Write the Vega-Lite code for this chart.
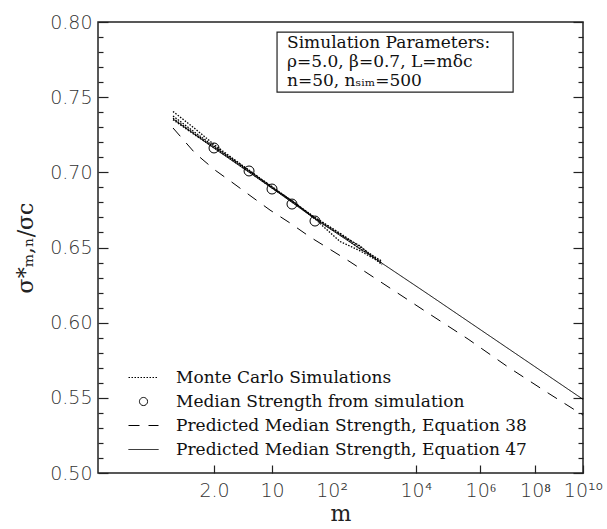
{
  "$schema": "https://vega.github.io/schema/vega-lite/v6.json",
  "width": 485,
  "height": 451,
  "autosize": {"type": "none"},
  "padding": {"left": 98, "top": 22, "right": 24, "bottom": 56},
  "background": "white",
  "config": {
    "view": {"stroke": "#222", "strokeWidth": 1.5},
    "axis": {"domain": false, "grid": false, "labelFont": "DejaVu Sans", "labelFontWeight": 200, "labelColor": "#333", "labelFontSize": 19, "tickColor": "#222", "tickWidth": 1.2, "labelOverlap": false, "labelFlush": false},
    "legend": {"symbolStrokeColor": "black", "symbolFillColor": "transparent"}
  },
  "datasets": {
    "eq38": [
      {"logm": 0.0971, "v": 0.7295, "series": "Predicted Median Strength, Equation 38"},
      {"logm": 0.2158, "v": 0.7128, "series": "Predicted Median Strength, Equation 38"},
      {"logm": 0.3643, "v": 0.7015, "series": "Predicted Median Strength, Equation 38"},
      {"logm": 0.5311, "v": 0.6929, "series": "Predicted Median Strength, Equation 38"},
      {"logm": 0.7412, "v": 0.6836, "series": "Predicted Median Strength, Equation 38"},
      {"logm": 0.9724, "v": 0.6749, "series": "Predicted Median Strength, Equation 38"},
      {"logm": 1.2661, "v": 0.6663, "series": "Predicted Median Strength, Equation 38"},
      {"logm": 1.5985, "v": 0.6570, "series": "Predicted Median Strength, Equation 38"},
      {"logm": 2.379, "v": 0.6405, "series": "Predicted Median Strength, Equation 38"},
      {"logm": 4.346, "v": 0.6064, "series": "Predicted Median Strength, Equation 38"},
      {"logm": 5.584, "v": 0.5891, "series": "Predicted Median Strength, Equation 38"},
      {"logm": 6.976, "v": 0.5705, "series": "Predicted Median Strength, Equation 38"},
      {"logm": 8.522, "v": 0.5532, "series": "Predicted Median Strength, Equation 38"},
      {"logm": 10, "v": 0.5385, "series": "Predicted Median Strength, Equation 38"}
    ],
    "eq47": [
      {"logm": 0.0971, "v": 0.7355, "series": "Predicted Median Strength, Equation 47"},
      {"logm": 0.348, "v": 0.7165, "series": "Predicted Median Strength, Equation 47"},
      {"logm": 1.0, "v": 0.6895, "series": "Predicted Median Strength, Equation 47"},
      {"logm": 1.687, "v": 0.6690, "series": "Predicted Median Strength, Equation 47"},
      {"logm": 3.116, "v": 0.6395, "series": "Predicted Median Strength, Equation 47"},
      {"logm": 4.346, "v": 0.6190, "series": "Predicted Median Strength, Equation 47"},
      {"logm": 10, "v": 0.5490, "series": "Predicted Median Strength, Equation 47"}
    ],
    "mc": [
      {"run": 1, "logm": 0.097, "v": 0.7405, "series": "Monte Carlo Simulations"},
      {"run": 1, "logm": 0.216, "v": 0.7290, "series": "Monte Carlo Simulations"},
      {"run": 1, "logm": 0.364, "v": 0.7180, "series": "Monte Carlo Simulations"},
      {"run": 1, "logm": 0.717, "v": 0.7008, "series": "Monte Carlo Simulations"},
      {"run": 1, "logm": 1.0, "v": 0.6905, "series": "Monte Carlo Simulations"},
      {"run": 1, "logm": 1.313, "v": 0.6805, "series": "Monte Carlo Simulations"},
      {"run": 1, "logm": 1.687, "v": 0.6700, "series": "Monte Carlo Simulations"},
      {"run": 1, "logm": 2.170, "v": 0.6595, "series": "Monte Carlo Simulations"},
      {"run": 1, "logm": 2.599, "v": 0.6505, "series": "Monte Carlo Simulations"},
      {"run": 1, "logm": 3.116, "v": 0.6402, "series": "Monte Carlo Simulations"},
      {"run": 2, "logm": 0.097, "v": 0.7350, "series": "Monte Carlo Simulations"},
      {"run": 2, "logm": 0.216, "v": 0.7248, "series": "Monte Carlo Simulations"},
      {"run": 2, "logm": 0.364, "v": 0.7160, "series": "Monte Carlo Simulations"},
      {"run": 2, "logm": 0.717, "v": 0.7000, "series": "Monte Carlo Simulations"},
      {"run": 2, "logm": 1.0, "v": 0.6895, "series": "Monte Carlo Simulations"},
      {"run": 2, "logm": 1.313, "v": 0.6808, "series": "Monte Carlo Simulations"},
      {"run": 2, "logm": 1.687, "v": 0.6690, "series": "Monte Carlo Simulations"},
      {"run": 2, "logm": 2.170, "v": 0.6540, "series": "Monte Carlo Simulations"},
      {"run": 2, "logm": 2.599, "v": 0.6478, "series": "Monte Carlo Simulations"},
      {"run": 2, "logm": 3.116, "v": 0.6395, "series": "Monte Carlo Simulations"},
      {"run": 3, "logm": 0.097, "v": 0.7375, "series": "Monte Carlo Simulations"},
      {"run": 3, "logm": 0.216, "v": 0.7265, "series": "Monte Carlo Simulations"},
      {"run": 3, "logm": 0.364, "v": 0.7170, "series": "Monte Carlo Simulations"},
      {"run": 3, "logm": 0.717, "v": 0.7010, "series": "Monte Carlo Simulations"},
      {"run": 3, "logm": 1.0, "v": 0.6898, "series": "Monte Carlo Simulations"},
      {"run": 3, "logm": 1.313, "v": 0.6800, "series": "Monte Carlo Simulations"},
      {"run": 3, "logm": 1.687, "v": 0.6698, "series": "Monte Carlo Simulations"},
      {"run": 3, "logm": 2.170, "v": 0.6590, "series": "Monte Carlo Simulations"},
      {"run": 3, "logm": 2.599, "v": 0.6490, "series": "Monte Carlo Simulations"},
      {"run": 3, "logm": 3.116, "v": 0.6410, "series": "Monte Carlo Simulations"},
      {"run": 4, "logm": 0.097, "v": 0.7360, "series": "Monte Carlo Simulations"},
      {"run": 4, "logm": 0.216, "v": 0.7255, "series": "Monte Carlo Simulations"},
      {"run": 4, "logm": 0.364, "v": 0.7165, "series": "Monte Carlo Simulations"},
      {"run": 4, "logm": 0.717, "v": 0.7005, "series": "Monte Carlo Simulations"},
      {"run": 4, "logm": 1.0, "v": 0.6902, "series": "Monte Carlo Simulations"},
      {"run": 4, "logm": 1.313, "v": 0.6803, "series": "Monte Carlo Simulations"},
      {"run": 4, "logm": 1.687, "v": 0.6693, "series": "Monte Carlo Simulations"},
      {"run": 4, "logm": 2.170, "v": 0.6585, "series": "Monte Carlo Simulations"},
      {"run": 4, "logm": 2.599, "v": 0.6510, "series": "Monte Carlo Simulations"},
      {"run": 4, "logm": 3.116, "v": 0.6385, "series": "Monte Carlo Simulations"}
    ],
    "median": [
      {"logm": 0.356, "v": 0.7162, "series": "Median Strength from simulation"},
      {"logm": 0.706, "v": 0.7009, "series": "Median Strength from simulation"},
      {"logm": 1.0, "v": 0.6889, "series": "Median Strength from simulation"},
      {"logm": 1.297, "v": 0.6789, "series": "Median Strength from simulation"},
      {"logm": 1.687, "v": 0.6676, "series": "Median Strength from simulation"}
    ]
  },
  "resolve": {"axis": {"x": "independent", "y": "independent"}},
  "layer": [
    {
      "data": {"name": "eq38"},
      "mark": {"type": "line", "color": "black", "strokeWidth": 1},
      "encoding": {
        "x": {"field": "logm", "type": "quantitative",
          "scale": {"type": "sqrt", "domain": [-0.0441, 10], "nice": false, "zero": false},
          "axis": {"orient": "bottom", "values": [0.356, 1, 2, 4, 6, 8, 10], "ticks": false, "labelPadding": 8,
            "labelExpr": "datum.value < 0.5 ? '2.0' : datum.value == 1 ? '10' : datum.value == 2 ? '10²' : datum.value == 4 ? '10⁴' : datum.value == 6 ? '10⁶' : datum.value == 8 ? '10⁸' : '10¹⁰'",
            "title": "m", "titleFont": "DejaVu Serif", "titleFontSize": 22, "titleFontWeight": "normal", "titlePadding": 3, "titleColor": "#222"}},
        "y": {"field": "v", "type": "quantitative",
          "scale": {"domain": [0.5, 0.8], "nice": false, "zero": false},
          "axis": {"orient": "left", "values": [0.5, 0.55, 0.6, 0.65, 0.7, 0.75, 0.8], "ticks": false, "labelPadding": 6, "format": ".2f",
            "title": "σ*ₘ,ₙ/σc", "titleFont": "DejaVu Serif", "titleFontSize": 22, "titleFontWeight": "normal", "titlePadding": 12, "titleColor": "#222"}},
        "strokeDash": {"field": "series", "type": "nominal",
          "scale": {"domain": ["Monte Carlo Simulations", "Median Strength from simulation", "Predicted Median Strength, Equation 38", "Predicted Median Strength, Equation 47"],
            "range": [[1.5, 1.5], [1, 0], [11, 9], [1, 0]]},
          "legend": {"title": null, "orient": "none", "legendX": 30, "legendY": 340, "symbolSize": 900, "symbolStrokeWidth": 1, "symbolStrokeColor": "black", "symbolFillColor": "transparent",
            "labelFont": "DejaVu Serif", "labelFontSize": 17, "labelColor": "#111", "labelOffset": 17, "rowPadding": -2, "labelLimit": 500}}
      }
    },
    {
      "data": {"name": "eq47"},
      "mark": {"type": "line", "color": "black", "strokeWidth": 1},
      "encoding": {
        "x": {"field": "logm", "type": "quantitative",
          "scale": {"type": "sqrt", "domain": [-0.0441, 10], "nice": false, "zero": false},
          "axis": {"orient": "bottom", "values": [0.356, 1, 4, 6, 8, 10], "labels": false, "tickSize": -8, "title": null}},
        "y": {"field": "v", "type": "quantitative",
          "axis": {"orient": "left", "values": [0.5, 0.55, 0.6, 0.65, 0.7, 0.75, 0.8], "labels": false, "tickSize": -10, "title": null}},
        "strokeDash": {"field": "series", "type": "nominal"}
      }
    },
    {
      "data": {"name": "mc"},
      "mark": {"type": "line", "color": "black", "strokeWidth": 1.3},
      "encoding": {
        "x": {"field": "logm", "type": "quantitative", "axis": null},
        "y": {"field": "v", "type": "quantitative",
          "axis": {"orient": "left", "values": [0.51, 0.52, 0.53, 0.54, 0.56, 0.57, 0.58, 0.59, 0.61, 0.62, 0.63, 0.64, 0.66, 0.67, 0.68, 0.69, 0.71, 0.72, 0.73, 0.74, 0.76, 0.77, 0.78, 0.79], "labels": false, "tickSize": -5, "title": null}},
        "detail": {"field": "run", "type": "nominal"},
        "strokeDash": {"field": "series", "type": "nominal"}
      }
    },
    {
      "data": {"name": "median"},
      "mark": {"type": "point", "filled": false, "color": "black", "strokeWidth": 1, "size": 1369, "opacity": 1},
      "encoding": {
        "x": {"field": "logm", "type": "quantitative", "axis": null},
        "y": {"field": "v", "type": "quantitative",
          "axis": {"orient": "right", "values": [0.5, 0.55, 0.6, 0.65, 0.7, 0.75, 0.8], "labels": false, "tickSize": -10, "title": null}},
        "shape": {"field": "series", "type": "nominal",
          "scale": {"domain": ["Monte Carlo Simulations", "Median Strength from simulation", "Predicted Median Strength, Equation 38", "Predicted Median Strength, Equation 47"],
            "range": ["stroke", "M -0.27 0 A 0.27 0.27 0 1 1 0.27 0 A 0.27 0.27 0 1 1 -0.27 0 Z", "stroke", "stroke"]}}
      }
    },
    {
      "data": {"values": [{}]},
      "mark": {"type": "rect", "fill": "white", "fillOpacity": 0, "stroke": "#222", "strokeWidth": 1.2},
      "encoding": {
        "x": {"datum": 1.071, "type": "quantitative", "axis": null},
        "x2": {"datum": 7.163},
        "y": {"datum": 0.7933, "type": "quantitative",
          "axis": {"orient": "right", "values": [0.51, 0.52, 0.53, 0.54, 0.56, 0.57, 0.58, 0.59, 0.61, 0.62, 0.63, 0.64, 0.66, 0.67, 0.68, 0.69, 0.71, 0.72, 0.73, 0.74, 0.76, 0.77, 0.78, 0.79], "labels": false, "tickSize": -5, "title": null}},
        "y2": {"datum": 0.7534}
      }
    },
    {
      "data": {"values": [{}]},
      "mark": {"type": "text", "text": ["Simulation Parameters:", "ρ=5.0,  β=0.7,  L=mδc", "n=50,  nₛᵢₘ=500"], "font": "DejaVu Serif", "fontSize": 17, "color": "#111", "align": "left", "baseline": "top", "lineHeight": 19},
      "encoding": {
        "x": {"datum": 1.219, "type": "quantitative", "axis": null},
        "y": {"datum": 0.7912, "type": "quantitative", "axis": null}
      }
    }
  ]
}
